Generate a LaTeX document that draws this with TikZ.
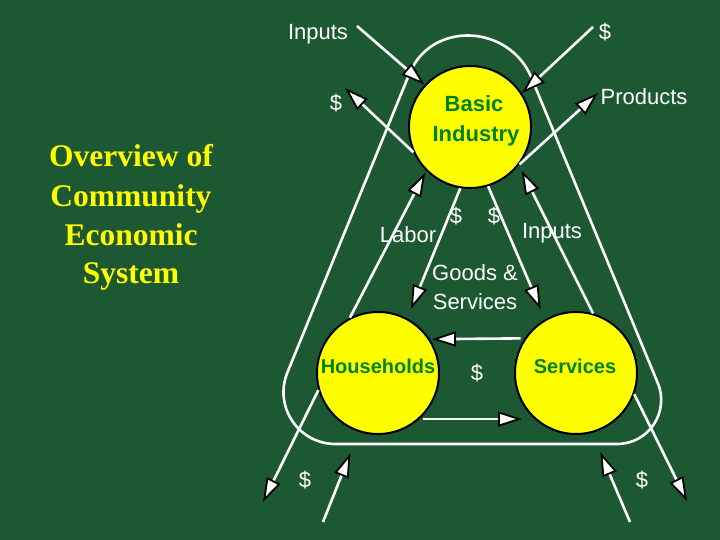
\documentclass[tikz,border=0pt]{standalone}
\usepackage{fontspec}
\setmainfont{Liberation Sans}
\newfontfamily\titlefont{Liberation Serif}
\usetikzlibrary{arrows.meta}
\definecolor{bg}{RGB}{28,88,50}
\definecolor{ylw}{RGB}{255,255,0}
\definecolor{dkgreen}{RGB}{0,130,0}
\tikzset{
  flow/.style={draw=white, line width=2.6pt,
    -{Triangle[length=24pt,width=15pt,line width=1.8pt,color=black,fill=white]}},
  orb/.style={circle, draw=black, line width=2pt, fill=ylw, minimum size=122pt, inner sep=0pt},
  lbl/.style={text=white, font=\fontsize{22}{26}\selectfont, inner sep=0pt, anchor=base},
  olbl/.style={text=dkgreen, font=\fontsize{22}{26}\selectfont\bfseries, inner sep=0pt, anchor=base},
  slbl/.style={text=dkgreen, font=\fontsize{20}{24}\selectfont\bfseries, inner sep=0pt, anchor=base},
  ttl/.style={text=ylw, font=\titlefont\fontsize{31.5}{36}\selectfont\bfseries, inner sep=0pt, anchor=base},
  ring/.style={draw=white, line width=2.6pt}
}
\begin{document}
\begin{tikzpicture}[x=1pt,y=-1pt]
\fill[bg] (0,0) rectangle (720,540);
\useasboundingbox (0,0) rectangle (720,540);

% rounded triangle outline
\draw[ring] (409.5,73.4) .. controls (431.8,20.2) and (509.3,24.3) .. (531.4,77.6)
  -- (657.8,383.1) .. controls (669.8,412.1) and (648.5,444) .. (617.1,444)
  -- (335.5,444) .. controls (298.3,444) and (273.2,406.3) .. (287.6,372) -- cycle;

% circles
\node[orb] (bi) at (470,127) {};
\node[orb] (hh) at (378,373) {};
\node[orb] (ss) at (576,373) {};

% free ends
\coordinate (inTL) at (357,26);
\coordinate (dTR) at (593,27);
\coordinate (dL) at (345,88);
\coordinate (prod) at (598,93);
\coordinate (oBL) at (263,502);
\coordinate (iBL) at (323,522);
\coordinate (oBR) at (687,501);
\coordinate (iBR) at (630,522);

% arrows around basic industry
\draw[flow] (inTL) -- (bi.137);
\draw[flow] (dTR) -- (bi.33);
\draw[flow] (bi.204) -- (dL);
\draw[flow] (bi.323) -- (prod);

% internal flows
\draw[flow, shorten >=2pt] (hh.117) -- (bi.225);
\draw[flow, shorten >=10pt] (bi.261) -- (hh.62);
\draw[flow, shorten >=11pt] (bi.287) -- (ss.120);
\draw[flow, shorten >=6pt] (ss.74) -- (bi.322);
\draw[flow, shorten <=4pt, shorten >=2pt] (ss.146.7) -- (hh.33.3);
\draw[flow, shorten <=3.5pt, shorten >=12.5pt] (hh.312) -- (ss.228);

% bottom flows
\draw[flow] (hh.196) -- (oBL);
\draw[flow, shorten >=23pt] (iBL) -- (hh.252);
\draw[flow] (ss.340) -- (oBR);
\draw[flow, shorten >=21pt] (iBR) -- (ss.285);

% circle texts
\node[olbl] (tBasic) at (474,112) {Basic};
\node[olbl] (tIndustry) at (476,142) {Industry};
\node[slbl] (tHH) at (378,373) {Households};
\node[slbl] (tSV) at (575,373) {Services};

% labels
\node[lbl] (tInputs) at (318,40) {Inputs};
\node[lbl] (tDTR) at (605,40) {\$};
\node[lbl] (tDL) at (336,111) {\$};
\node[lbl] (tProducts) at (644,105) {Products};
\node[lbl] (tLabor) at (408,242) {Labor};
\node[lbl] (tD1) at (456,224) {\$};
\node[lbl] (tD2) at (494,224) {\$};
\node[lbl] (tInputs2) at (552,238) {Inputs};
\node[lbl] (tGoods) at (475,280) {Goods \&};
\node[lbl] (tServ) at (475,309) {Services};
\node[lbl] (tDM) at (477,380) {\$};
\node[lbl] (tDBL) at (305,487) {\$};
\node[lbl] (tDBR) at (642,487) {\$};

% title
\node[ttl] (ti1) at (131,167) {Overview of};
\node[ttl] (ti2) at (131,207) {Community};
\node[ttl] (ti3) at (131,245) {Economic};
\node[ttl] (ti4) at (131,283) {System};
\end{tikzpicture}
\end{document}
